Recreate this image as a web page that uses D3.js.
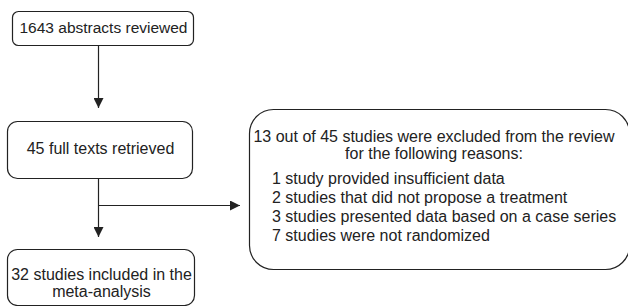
<!DOCTYPE html>
<html>
<head>
<meta charset="utf-8">
<style>
  body { margin: 0; background: #fff; }
  text { font-family: "Liberation Sans", Arial, sans-serif; fill: #222; }
</style>
</head>
<body>
<div id="chart"></div>
<script src="https://cdnjs.cloudflare.com/ajax/libs/d3/7.8.5/d3.min.js"></script>
<script>
// flow steps and exclusion notes
var steps = ["1643 abstracts reviewed", "45 full texts retrieved", "32 studies included in the\nmeta-analysis"];
var excludedHeader = ["13 out of 45 studies were excluded from the review", "for the following reasons:"];
var reasons = [
  "1 study provided insufficient data",
  "2 studies that did not propose a treatment",
  "3 studies presented data based on a case series",
  "7 studies were not randomized"
];

var width = 628, height = 306;
var fs = 16;

var svg = d3.select("#chart").append("svg")
  .attr("width", width)
  .attr("height", height);

svg.append("defs").append("marker")
  .attr("id", "arrow")
  .attr("viewBox", "0 0 10 10")
  .attr("refX", 10).attr("refY", 5)
  .attr("markerWidth", 10).attr("markerHeight", 10)
  .attr("markerUnits", "userSpaceOnUse")
  .attr("orient", "auto")
  .append("path")
  .attr("d", "M0,0 L10,5 L0,10 Z")
  .attr("fill", "#222");

// boxes on the left column
var boxes = [
  {x: 12, y: 11, w: 181, h: 34, r: 6, lines: steps[0].split("\n"), ty: 33, fs: 15.5},
  {x: 7, y: 121, w: 185, h: 57, r: 10, lines: steps[1].split("\n"), ty: 154, fs: 16},
  {x: 7, y: 249, w: 187, h: 56, r: 10, lines: steps[2].split("\n"), ty: 280, fs: 16}
];

var g = svg.selectAll("g.step").data(boxes).enter().append("g").attr("class", "step");

g.append("rect")
  .attr("x", d => d.x + 0.5).attr("y", d => d.y + 0.5)
  .attr("width", d => d.w).attr("height", d => d.h)
  .attr("rx", d => d.r)
  .attr("fill", "none").attr("stroke", "#222").attr("stroke-width", 1.2);

g.each(function(d) {
  d3.select(this).selectAll("text").data(d.lines).enter().append("text")
    .attr("x", d.x + d.w / 2 + 1)
    .attr("y", (l, i) => d.ty + i * 17)
    .attr("text-anchor", "middle")
    .attr("font-size", d.fs)
    .text(l => l);
});

var cx = 98.5;
// connectors
svg.append("line")
  .attr("x1", cx).attr("y1", 46).attr("x2", cx).attr("y2", 108)
  .attr("stroke", "#222").attr("stroke-width", 1.2)
  .attr("marker-end", "url(#arrow)");
svg.append("line")
  .attr("x1", cx).attr("y1", 179).attr("x2", cx).attr("y2", 237)
  .attr("stroke", "#222").attr("stroke-width", 1.2)
  .attr("marker-end", "url(#arrow)");
svg.append("line")
  .attr("x1", cx).attr("y1", 205.5).attr("x2", 240).attr("y2", 205.5)
  .attr("stroke", "#222").attr("stroke-width", 1.2)
  .attr("marker-end", "url(#arrow)");

// exclusion box
var ex = {x: 249.5, y: 109.5, w: 380, h: 160, r: 24};
svg.append("rect")
  .attr("x", ex.x).attr("y", ex.y)
  .attr("width", ex.w).attr("height", ex.h)
  .attr("rx", ex.r)
  .attr("fill", "none").attr("stroke", "#222").attr("stroke-width", 1.2);

svg.selectAll("text.head").data(excludedHeader).enter().append("text")
  .attr("class", "head")
  .attr("x", 434)
  .attr("y", (d, i) => 142 + i * 17)
  .attr("text-anchor", "middle")
  .attr("font-size", fs)
  .text(d => d);

svg.selectAll("text.reason").data(reasons).enter().append("text")
  .attr("class", "reason")
  .attr("x", 272)
  .attr("y", (d, i) => 184 + i * 19)
  .attr("font-size", fs)
  .text(d => d);
</script>
</body>
</html>
